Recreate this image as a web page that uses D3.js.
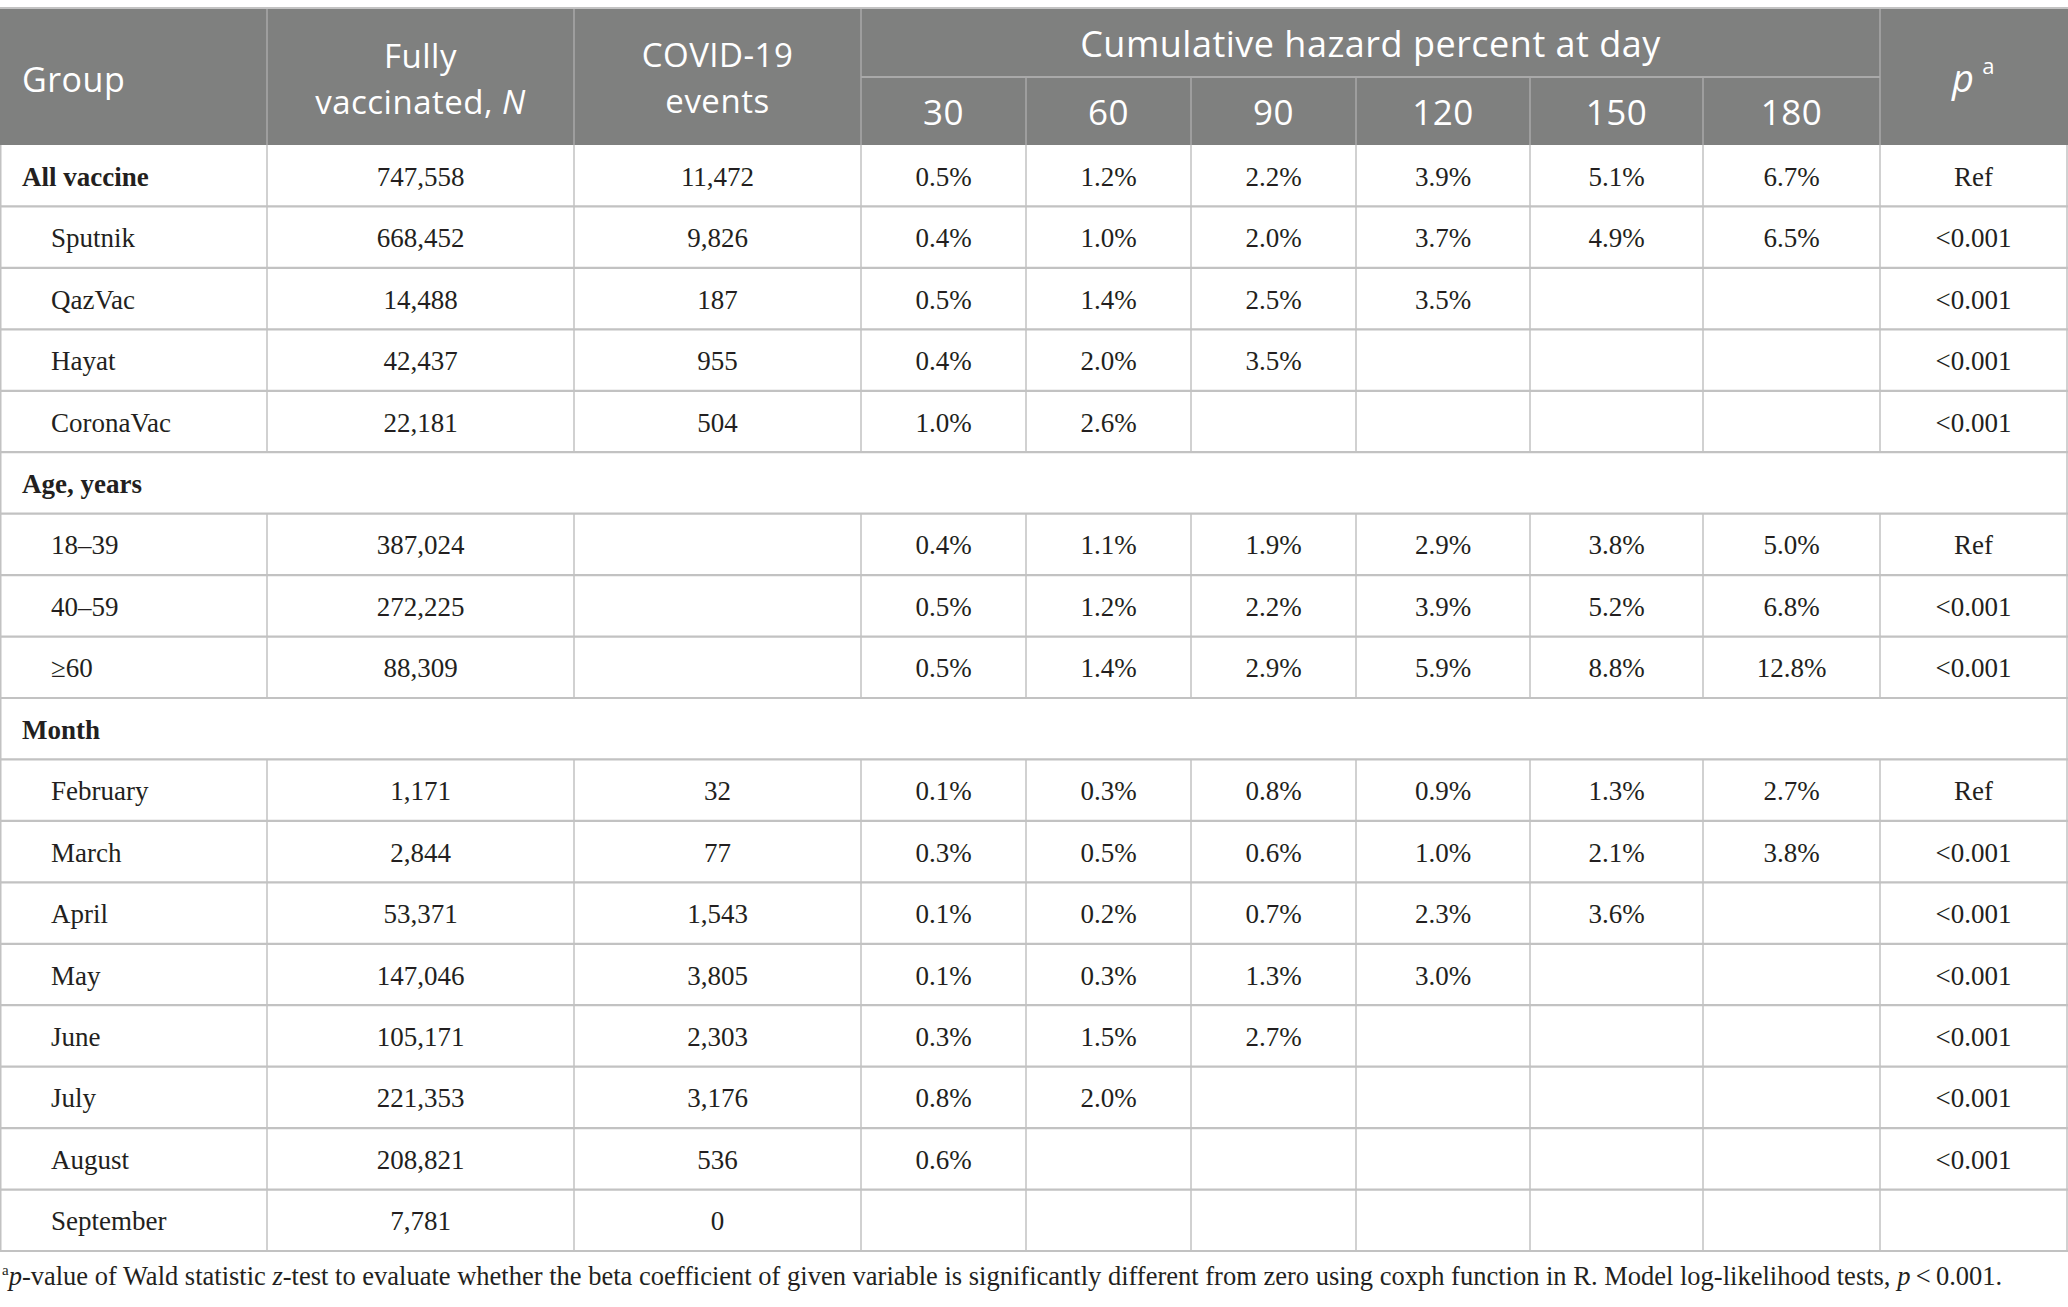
<!DOCTYPE html>
<html>
<head>
<meta charset="utf-8">
<script src="https://cdn.jsdelivr.net/npm/d3@7"></script>
<style>
  html, body { margin: 0; padding: 0; background: #fff; }
  svg { display: block; }
</style>
</head>
<body>
<svg id="chart" width="2068" height="1307"></svg>
<script>
// ---------------- DATA ----------------
const groupLabels = ["All vaccine","Sputnik","QazVac","Hayat","CoronaVac",
  "Age, years","18–39","40–59","≥60",
  "Month","February","March","April","May","June","July","August","September"];
// row kind: "lead" = bold row with values, "section" = bold spanning row, "item" = indented row
const rowKinds = ["lead","item","item","item","item",
  "section","item","item","item",
  "section","item","item","item","item","item","item","item","item"];
const fullyVaccinated = [747558,668452,14488,42437,22181,
  null,387024,272225,88309,
  null,1171,2844,53371,147046,105171,221353,208821,7781];
const covidEvents = [11472,9826,187,955,504,
  null,null,null,null,
  null,32,77,1543,3805,2303,3176,536,0];
const days = [30,60,90,120,150,180];
const hazardDay30  = [0.5,0.4,0.5,0.4,1.0, null,0.4,0.5,0.5, null,0.1,0.3,0.1,0.1,0.3,0.8,0.6,null];
const hazardDay60  = [1.2,1.0,1.4,2.0,2.6, null,1.1,1.2,1.4, null,0.3,0.5,0.2,0.3,1.5,2.0,null,null];
const hazardDay90  = [2.2,2.0,2.5,3.5,null, null,1.9,2.2,2.9, null,0.8,0.6,0.7,1.3,2.7,null,null,null];
const hazardDay120 = [3.9,3.7,3.5,null,null, null,2.9,3.9,5.9, null,0.9,1.0,2.3,3.0,null,null,null,null];
const hazardDay150 = [5.1,4.9,null,null,null, null,3.8,5.2,8.8, null,1.3,2.1,3.6,null,null,null,null,null];
const hazardDay180 = [6.7,6.5,null,null,null, null,5.0,6.8,12.8, null,2.7,3.8,null,null,null,null,null,null];
const pValues = ["Ref","<0.001","<0.001","<0.001","<0.001",
  "","Ref","<0.001","<0.001",
  "","Ref","<0.001","<0.001","<0.001","<0.001","<0.001","<0.001",""];

// ---------------- LAYOUT ----------------
const W = 2068;
const colEdges = [0, 267, 574, 861, 1026, 1191, 1356, 1530, 1703, 1880, 2067];
const tableTop = 8, subHeaderY = 77, headerBottom = 145, tableBottom = 1251;

const headerFill = "#7f807f";
const headerLine = "#a9a9a9";
const gridLine = "#c2c2c2";
const textColor = "#231f20";
const sansFont = "'Open Sans', sans-serif";
const serifFont = "'Liberation Serif', 'Times New Roman', serif";

const svg = d3.select("#chart");

const y = d3.scaleBand()
  .domain(d3.range(groupLabels.length))
  .range([headerBottom, tableBottom])
  .paddingInner(0).paddingOuter(0);

const hazardCols = [hazardDay30, hazardDay60, hazardDay90, hazardDay120, hazardDay150, hazardDay180];
const fmtN = d3.format(",");
const fmtPct = v => v == null ? "" : d3.format(".1f")(v) + "%";

// ---------------- HEADER ----------------
const hdr = svg.append("g");
hdr.append("rect")
  .attr("x", 0).attr("y", tableTop)
  .attr("width", W).attr("height", headerBottom - tableTop)
  .attr("fill", headerFill);

[colEdges[1], colEdges[2], colEdges[3], colEdges[9]].forEach(x => {
  hdr.append("line").attr("x1", x).attr("x2", x).attr("y1", tableTop).attr("y2", headerBottom)
    .attr("stroke", headerLine).attr("stroke-width", 1.5);
});
colEdges.slice(4, 9).forEach(x => {
  hdr.append("line").attr("x1", x).attr("x2", x).attr("y1", subHeaderY).attr("y2", headerBottom)
    .attr("stroke", headerLine).attr("stroke-width", 1.5);
});
hdr.append("line").attr("x1", colEdges[3]).attr("x2", colEdges[9]).attr("y1", subHeaderY).attr("y2", subHeaderY)
  .attr("stroke", headerLine).attr("stroke-width", 2);

const hText = (x, yy, anchor) => hdr.append("text")
  .attr("x", x).attr("y", yy).attr("text-anchor", anchor)
  .attr("fill", "#fff").attr("font-family", sansFont).attr("font-size", 34)
  .attr("letter-spacing", 0.5);

hText(22, 92, "start").text("Group");
const c1 = (colEdges[1] + colEdges[2]) / 2;
hText(c1, 68, "middle").attr("font-size", 33).text("Fully");
const t1 = hText(c1, 114, "middle").attr("font-size", 33);
t1.append("tspan").text("vaccinated, ");
t1.append("tspan").attr("font-style", "italic").text("N");
const c2 = (colEdges[2] + colEdges[3]) / 2;
hText(c2, 67, "middle").attr("font-size", 33).text("COVID-19");
hText(c2, 113, "middle").attr("font-size", 33).text("events");
hText((colEdges[3] + colEdges[9]) / 2, 57, "middle").attr("font-size", 36).text("Cumulative hazard percent at day");
days.forEach((d, i) => {
  hText((colEdges[3 + i] + colEdges[4 + i]) / 2, 125, "middle").attr("font-size", 35).text(d);
});
const pT = hText((colEdges[9] + colEdges[10]) / 2, 92, "middle");
pT.append("tspan").attr("font-style", "italic").attr("font-size", 38).text("p");
pT.append("tspan").attr("font-size", 22).attr("dx", 8).attr("dy", -18).text("a");

// ---------------- BODY ----------------
const body = svg.append("g");

d3.range(groupLabels.length).forEach(i => {
  body.append("line")
    .attr("x1", 0).attr("x2", W)
    .attr("y1", y(i) + y.bandwidth()).attr("y2", y(i) + y.bandwidth())
    .attr("stroke", gridLine).attr("stroke-width", 2.2);
});
d3.range(groupLabels.length).forEach(i => {
  const edges = rowKinds[i] === "section" ? [0.75, colEdges[10]] : [0.75].concat(colEdges.slice(1, 10), [colEdges[10]]);
  edges.forEach(x => {
    body.append("line")
      .attr("x1", x).attr("x2", x)
      .attr("y1", y(i)).attr("y2", y(i) + y.bandwidth())
      .attr("stroke", gridLine).attr("stroke-width", 1.5);
  });
});

const cellText = (i, x, anchor) => body.append("text")
  .attr("x", x).attr("y", y(i) + y.bandwidth() / 2 + 10)
  .attr("text-anchor", anchor)
  .attr("fill", textColor).attr("font-family", serifFont).attr("font-size", 27);

groupLabels.forEach((lab, i) => {
  const kind = rowKinds[i];
  const t = cellText(i, kind === "item" ? 51 : 22, "start").text(lab);
  if (kind !== "item") t.attr("font-weight", "bold");
  if (kind === "section") return;
  const mid = k => (colEdges[k] + colEdges[k + 1]) / 2;
  if (fullyVaccinated[i] != null) cellText(i, mid(1), "middle").text(fmtN(fullyVaccinated[i]));
  if (covidEvents[i] != null) cellText(i, mid(2), "middle").text(fmtN(covidEvents[i]));
  hazardCols.forEach((col, k) => {
    if (col[i] != null) cellText(i, mid(3 + k), "middle").text(fmtPct(col[i]));
  });
  if (pValues[i]) cellText(i, mid(9), "middle").text(pValues[i]);
});

svg.append("line").attr("x1", 0).attr("x2", W).attr("y1", tableTop).attr("y2", tableTop)
  .attr("stroke", gridLine).attr("stroke-width", 2);

// ---------------- FOOTNOTE ----------------
const fn = svg.append("text")
  .attr("x", 2).attr("y", 1285)
  .attr("fill", textColor).attr("font-family", serifFont).attr("font-size", 26.5);
fn.append("tspan").attr("font-size", 15).attr("dy", -10).text("a");
fn.append("tspan").attr("font-style", "italic").attr("dy", 10).text("p");
fn.append("tspan").text("-value of Wald statistic ");
fn.append("tspan").attr("font-style", "italic").text("z");
fn.append("tspan").text("-test to evaluate whether the beta coefficient of given variable is significantly different from zero using coxph function in R. Model log-likelihood tests, ");
fn.append("tspan").attr("font-style", "italic").text("p");
fn.append("tspan").text("\u2009<\u20090.001.");
</script>
</body>
</html>
